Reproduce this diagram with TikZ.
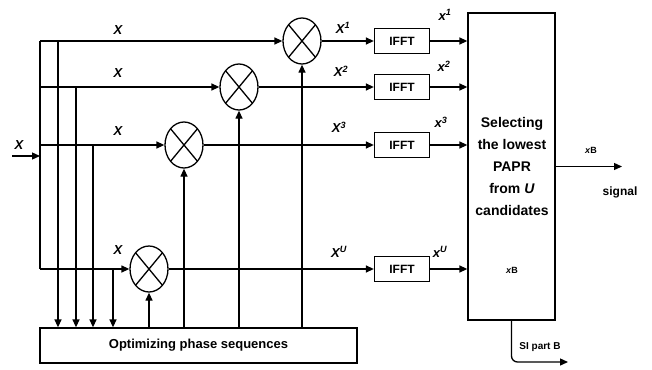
\documentclass[tikz,border=0pt]{standalone}
\usepackage{fontspec}
\setmainfont{Liberation Sans}
\usetikzlibrary{arrows.meta,positioning,shapes.geometric,calc}
\tikzset{
  >={Triangle[length=8pt,width=7pt]},
  font=\bfseries\fontsize{12}{14}\selectfont,
  wire/.style={line width=1.3pt,draw=black},
  flow/.style={wire,->},
  mult/.style={draw,line width=1.3pt,ellipse,minimum width=38pt,minimum height=46pt,
               inner sep=0pt,
               path picture={\draw[line width=1.3pt]
                 (path picture bounding box.north west) -- (path picture bounding box.south east)
                 (path picture bounding box.north east) -- (path picture bounding box.south west);}},
  ifft/.style={draw,line width=1.3pt,minimum width=55pt,minimum height=25pt,inner sep=0pt},
  bigbox/.style={draw,line width=1.3pt,inner sep=0pt,align=center},
  sym/.style={font=\bfseries\itshape\fontsize{13}{15}\selectfont,inner sep=1pt},
  tag/.style={font=\bfseries\fontsize{9}{11}\selectfont,inner sep=1pt},
}

\begin{document}
\begin{tikzpicture}[x=1pt,y=-1pt]
  \useasboundingbox (0,0) rectangle (652,369);

  % ---- multipliers, one per candidate ----
  \node[mult] (m1) at (302,41) {};
  \node[mult] (m2) at (239,87) {};
  \node[mult] (m3) at (184,145) {};
  \node[mult] (mU) at (149,269) {};

  % ---- IFFT blocks ----
  \node[ifft] (f1) at (402,41) {IFFT};
  \node[ifft] (f2) at (402,87) {IFFT};
  \node[ifft] (f3) at (402,145) {IFFT};
  \node[ifft] (fU) at (402,269) {IFFT};

  % ---- selector and phase optimiser ----
  \node[bigbox,minimum width=87pt,minimum height=307pt] (sel) at (511.5,166.5) {};
  \node[align=center,font=\bfseries\fontsize{14}{22}\selectfont] (seltxt) at (512,166)
    {Selecting\\the lowest\\PAPR\\from \textit{U}\\candidates};
  \node[tag] (xbin) at (512,270) {\textit{x}B};
  \node[bigbox,minimum width=317pt,minimum height=35pt,
        font=\bfseries\fontsize{13}{15}\selectfont] (opt) at (198.5,345.5)
    {Optimizing phase sequences};

  % ---- input bus ----
  \coordinate (in) at (12,156);
  \coordinate (split) at (40,156);
  \coordinate (top) at (40,41);
  \coordinate (bot) at (40,269);
  \draw[flow] (in) -- (split);
  \draw[wire] (top) -- (bot);
  \draw[flow] (top) -- (m1.west);
  \draw[flow] (top |- m2.west) -- (m2.west);
  \draw[flow] (top |- m3.west) -- (m3.west);
  \draw[flow] (bot) -- (mU.west);

  % ---- taps down into the optimiser ----
  \coordinate (t1) at (58,41);
  \coordinate (t2) at (76,87);
  \coordinate (t3) at (93,145);
  \coordinate (tU) at (113,269);
  \foreach \t in {t1,t2,t3,tU}
    \draw[flow] (\t) -- (\t |- opt.north);

  % ---- phase sequences up into the multipliers ----
  \foreach \m in {m1,m2,m3,mU}
    \draw[flow] (opt.north -| \m) -- (\m.south);

  % ---- through IFFT into the selector ----
  \foreach \i in {1,2,3,U} {
    \draw[flow] (m\i.east) -- (f\i.west);
    \draw[flow] (f\i.east) -- (f\i.east -| sel.west);
  }

  % ---- outputs ----
  \coordinate (sig) at (622,166.5);
  \coordinate (si) at (568,362);
  \draw[flow] (sel.east) -- (sig);
  \draw[flow,rounded corners=6pt] (sel.south) |- (si);

  % ---- labels ----
  \node[sym] (lx) at (19,145) {X};
  \node[sym] (lx1) at (118,30) {X};
  \node[sym] (lx2) at (118,73) {X};
  \node[sym] (lx3) at (118,131) {X};
  \node[sym] (lxU) at (118,250) {X};
  \node[sym] (lX1) at (343,28) {X\textsuperscript{1}};
  \node[sym] (lX2) at (341,71) {X\textsuperscript{2}};
  \node[sym] (lX3) at (339,127) {X\textsuperscript{3}};
  \node[sym] (lXU) at (339,252) {X\textsuperscript{U}};
  \node[sym] (ly1) at (445,15) {x\textsuperscript{1}};
  \node[sym] (ly2) at (444,66) {x\textsuperscript{2}};
  \node[sym] (ly3) at (441,122) {x\textsuperscript{3}};
  \node[sym] (lyU) at (440,252) {x\textsuperscript{U}};
  \node[tag] (lxb) at (591,150) {\textit{x}B};
  \node[font=\bfseries\fontsize{12}{14}\selectfont] (lsig) at (620,192) {signal};
  \node[tag,font=\bfseries\fontsize{10}{12}\selectfont] (lsi) at (540,347) {SI part B};
\end{tikzpicture}
\end{document}
